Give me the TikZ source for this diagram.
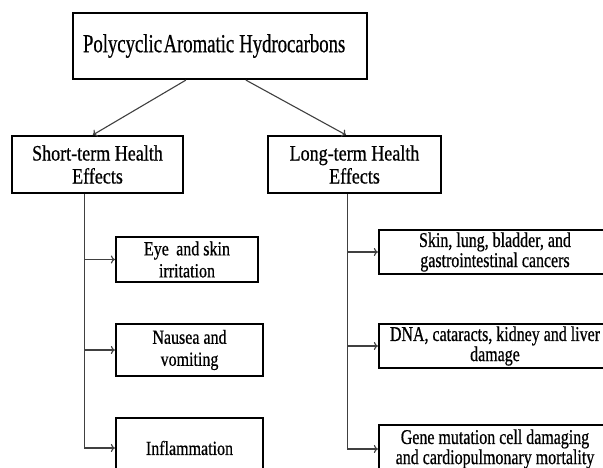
\documentclass[tikz,border=0pt]{standalone}
\usepackage{fontspec}
\setmainfont{Liberation Serif}
\newfontfamily\titlefont[FakeStretch=0.72,FakeBold=0.6]{Liberation Serif}
\newfontfamily\midfont[FakeStretch=0.82,FakeBold=0.6]{Liberation Serif}
\newfontfamily\leftfont[FakeStretch=0.8,FakeBold=0.6]{Liberation Serif}
\newfontfamily\rightfont[FakeStretch=0.76,FakeBold=0.6]{Liberation Serif}
\usetikzlibrary{arrows.meta,calc}
\begin{document}
\begin{tikzpicture}[x=1pt,y=-1pt,
  box/.style={draw=black, line width=2.2pt, rectangle, inner sep=0pt, align=center, text=black},
  titlebox/.style={box, font=\fontsize{26pt}{28pt}\selectfont\titlefont},
  midbox/.style={box, font=\fontsize{22pt}{23pt}\selectfont\midfont},
  leftleaf/.style={box, font=\fontsize{20pt}{22pt}\selectfont\leftfont},
  rightleaf/.style={box, font=\fontsize{21pt}{19pt}\selectfont\rightfont},
  link/.style={draw=black!75, line width=1.1pt, -{To[length=4pt,width=8pt]}},
  trunk/.style={draw=black!75, line width=1.1pt},
]
\useasboundingbox (0,0) rectangle (603,468);
\fill[white] (0,0) rectangle (603,468);
\clip (0,0) rectangle (603,468);

% top
\node[titlebox, minimum height=66pt, text width=274pt, inner xsep=10pt, align=left] (top) at (220,46) {Polycyclic\hspace{1.5pt}Aromatic\hspace{5pt}Hydrocarbons};

% level 2
\node[midbox, minimum width=171pt, minimum height=57pt] (short) at (97.5,164.5) {Short-term Health\\Effects};
\node[midbox, minimum width=173pt, minimum height=57pt] (long) at (354.5,164.5) {Long-term Health\\Effects};

% left leaves
\node[leftleaf, minimum width=142pt, minimum height=45pt] (eye) at (187,259.5) {Eye\, and skin\\irritation};
\node[leftleaf, minimum width=147pt, minimum height=52pt] (nau) at (189.5,350) {Nausea and\\vomiting};
\node[leftleaf, minimum width=147pt, minimum height=60pt] (inf) at (189.5,448) {Inflammation};

% right leaves
\node[rightleaf, minimum width=232pt, minimum height=44pt] (skin) at (495,252) {Skin, lung, bladder, and\\gastrointestinal cancers};
\node[rightleaf, minimum width=232pt, minimum height=44pt] (dna) at (495,346) {DNA, cataracts, kidney and liver\\damage};
\node[rightleaf, minimum width=232pt, minimum height=48pt] (gene) at (495,449) {Gene mutation cell damaging\\and cardiopulmonary mortality};

% connectors from top
\draw[link] ($(top.south west)+(114,0)$) -- ($(short.north west)+(82,0)$);
\draw[link] ($(top.south west)+(174,0)$) -- ($(long.north west)+(79,0)$);

% left trunk
\coordinate (sv) at ($(short.south west)+(74,0)$);
\coordinate (send) at ($(sv |- inf.west)$);
\draw[trunk] (sv) -- (send);
\draw[link] (sv) |- (eye.west);
\draw[link] (sv) |- (nau.west);
\draw[link] (sv) |- (inf.west);

% right trunk
\coordinate (lv) at ($(long.south west)+(81,0)$);
\coordinate (lend) at ($(lv |- gene.west)$);
\draw[trunk] (lv) -- (lend);
\draw[link] (lv) |- (skin.west);
\draw[link] (lv) |- (dna.west);
\draw[link] (lv) |- (gene.west);
\end{tikzpicture}
\end{document}
